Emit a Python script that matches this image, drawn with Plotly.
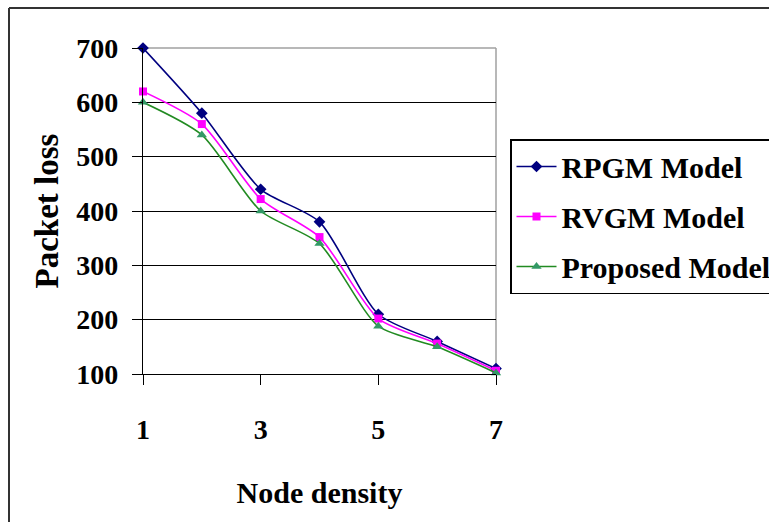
import plotly.graph_objects as go

node_density = [1, 2, 3, 4, 5, 6, 7]
rpgm = [700, 580, 440, 380, 210, 160, 110]
rvgm = [620, 560, 422, 352, 202, 156, 106]
proposed = [600, 540, 400, 340, 188, 150, 102]

x_ticks = [1, 3, 5, 7]
y_ticks = [100, 200, 300, 400, 500, 600, 700]

FONT = "Liberation Serif"

fig = go.Figure()
series = [
    ("RPGM Model", rpgm, "#000080", "#000080", "diamond", 9),
    ("RVGM Model", rvgm, "#FF00FF", "#FF00FF", "square", 8),
    ("Proposed Model", proposed, "#228B22", "#339966", "triangle-up", 9),
]
for i, (name, vals, lc, mc, sym, ms) in enumerate(series):
    fig.add_trace(go.Scatter(
        x=node_density, y=vals, name=name, mode="lines+markers",
        line=dict(color=lc, width=1.6, shape="spline", smoothing=0.7),
        marker=dict(color=mc, symbol=sym, size=ms, line=dict(width=0)),
        cliponaxis=False, legendgroup="g%d" % i,
    ))

W, H = 769, 522
L, R, T, B = 143, 496, 48, 374
pw, ph = R - L, B - T

def px(xp):
    return (xp - L) / pw

def py(yp):
    return (B - yp) / ph

fig.update_layout(
    width=W, height=H,
    margin=dict(l=L, r=W - R, t=T, b=H - B, autoexpand=False),
    paper_bgcolor="white", plot_bgcolor="white",
    font=dict(family=FONT, color="black", size=26, weight="bold"),
    showlegend=True,
    legend=dict(
        x=px(510), y=py(139), xanchor="left", yanchor="top",
        bordercolor="black", borderwidth=1.5, bgcolor="white",
        font=dict(family=FONT, size=30, color="black", weight="bold"),
        tracegroupgap=8, itemwidth=40,
    ),
    xaxis=dict(
        range=[1, 7], tickvals=x_ticks, ticks="outside", ticklen=10,
        tickcolor="black", tickwidth=1.2, showline=True, linecolor="black",
        linewidth=1.2, showgrid=False, zeroline=False,
        ticklabelstandoff=20,
        tickfont=dict(family=FONT, size=28, weight="bold"),
        title=dict(text="Node density", standoff=38,
                   font=dict(family=FONT, size=30, weight="bold")),
    ),
    yaxis=dict(
        range=[100, 700], tickvals=y_ticks, ticks="outside", ticklen=10,
        tickcolor="black", tickwidth=1.2, showline=True, linecolor="black",
        linewidth=1.2, showgrid=True, gridcolor="black", gridwidth=1.2,
        zeroline=False, ticklabelstandoff=8,
        tickfont=dict(family=FONT, size=28, weight="bold"),
        title=dict(text="Packet loss", standoff=7,
                   font=dict(family=FONT, size=33, weight="bold")),
    ),
    shapes=[
        dict(type="line", xref="paper", yref="paper", x0=0, x1=1, y0=1, y1=1,
             line=dict(color="#A0A0A0", width=1.5), layer="between"),
        dict(type="line", xref="paper", yref="paper", x0=1, x1=1, y0=0, y1=1,
             line=dict(color="#A0A0A0", width=1.5), layer="between"),
        dict(type="line", xref="paper", yref="paper", x0=px(9), x1=px(W + 5),
             y0=py(8), y1=py(8), line=dict(color="#333333", width=2)),
        dict(type="line", xref="paper", yref="paper", x0=px(9), x1=px(9),
             y0=py(8), y1=py(H + 5), line=dict(color="#333333", width=2)),
    ],
)

fig.write_html("out.html")
